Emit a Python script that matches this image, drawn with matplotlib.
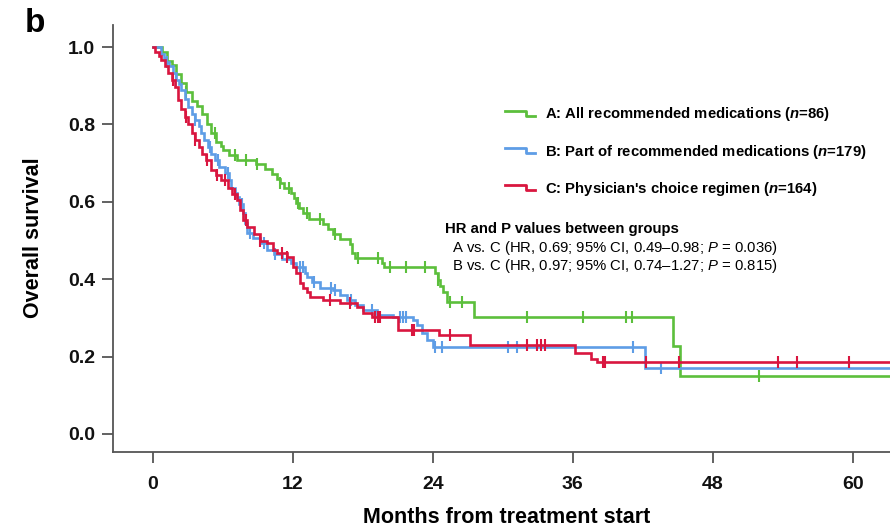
import numpy as np
import matplotlib
matplotlib.use("Agg")
import matplotlib.pyplot as plt
from matplotlib.legend_handler import HandlerBase
from matplotlib.lines import Line2D

plt.rcParams['font.family'] = ['Liberation Sans', 'DejaVu Sans']
plt.rcParams['mathtext.fontset'] = 'custom'
plt.rcParams['mathtext.it'] = 'Liberation Sans:italic'
plt.rcParams['mathtext.bfit'] = 'Liberation Sans:italic:bold'
plt.rcParams['mathtext.rm'] = 'Liberation Sans'

# ---------------- data ----------------
A_t = [0, 0.8, 1.2, 1.6, 2.0, 2.4, 2.8, 3.3, 3.8, 4.2, 4.6, 5.0, 5.4, 5.8, 6.0, 6.5, 7.2, 8.8, 9.6, 10.2,
       10.6, 10.9, 11.2, 11.8, 12.1, 12.3, 12.5, 12.9, 13.4, 14.6, 15.0, 15.4, 16.0, 16.9, 17.1, 17.3,
       19.6, 19.8, 24.2, 24.4, 24.6, 24.9, 25.2, 27.5, 44.6, 45.2]
A_s = [1.0, 0.988, 0.965, 0.953, 0.93, 0.907, 0.884, 0.86, 0.849, 0.826, 0.802, 0.779, 0.756, 0.745, 0.733,
       0.721, 0.709, 0.697, 0.685, 0.673, 0.66, 0.648, 0.636, 0.623, 0.61, 0.597, 0.584, 0.571, 0.557, 0.544,
       0.531, 0.518, 0.505, 0.491, 0.468, 0.455, 0.443, 0.432, 0.415, 0.398, 0.382, 0.367, 0.341, 0.302,
       0.227, 0.151]
A_cens = [2.8, 5.3, 7.0, 8.0, 8.9, 10.9, 11.7, 12.4, 13.2, 14.3, 15.6, 17.6, 19.3, 20.3, 21.7, 23.3,
          24.4, 25.5, 26.5, 32.1, 36.9, 40.6, 41.1, 52.0]

B_t = [0, 0.7, 0.9, 1.1, 1.4, 1.7, 2.0, 2.2, 2.4, 2.7, 3.0, 3.3, 3.6, 3.9, 4.1, 4.4, 4.7, 5.0, 5.3, 5.7,
       6.2, 6.5, 6.7, 7.0, 7.2, 7.4, 7.7, 7.9, 8.1, 8.6, 9.2, 9.8, 10.4, 11.1, 11.8, 12.3, 13.0, 13.2, 13.6,
       14.3, 15.4, 16.0, 16.6, 17.3, 18.0, 19.2, 20.6, 22.3, 22.6, 23.1, 23.5, 24.0, 42.2]
B_s = [1.0, 0.983, 0.972, 0.961, 0.95, 0.933, 0.916, 0.905, 0.889, 0.866, 0.845, 0.828, 0.811, 0.795, 0.778,
       0.76, 0.742, 0.725, 0.708, 0.69, 0.674, 0.656, 0.636, 0.624, 0.612, 0.595, 0.571, 0.545, 0.519, 0.506,
       0.494, 0.475, 0.464, 0.452, 0.442, 0.432, 0.416, 0.405, 0.393, 0.377, 0.372, 0.36, 0.346, 0.333, 0.32,
       0.307, 0.302, 0.295, 0.282, 0.261, 0.243, 0.225, 0.17]
B_cens = [1.2, 2.0, 3.6, 4.9, 5.6, 6.4, 7.6, 8.3, 9.5, 10.5, 12.6, 12.9, 13.8, 15.3, 15.6, 17.0, 18.8,
          21.2, 21.4, 21.7, 24.2, 24.8, 30.4, 31.2, 41.2, 43.6]

C_t = [0, 0.2, 0.5, 0.7, 1.0, 1.3, 1.6, 1.9, 2.1, 2.4, 2.7, 3.0, 3.3, 3.6, 3.9, 4.2, 4.5, 5.0, 5.4, 5.8,
       6.4, 6.8, 7.2, 7.5, 7.7, 8.1, 8.7, 9.2, 9.8, 10.3, 10.6, 11.5, 12.0, 12.3, 12.6, 12.9, 13.2, 13.5,
       14.6, 16.0, 17.5, 18.0, 18.8, 21.0, 24.5, 27.2, 36.2, 37.6, 38.1]
C_s = [1.0, 0.988, 0.976, 0.966, 0.95, 0.933, 0.915, 0.897, 0.863, 0.84, 0.819, 0.8, 0.778, 0.76, 0.742,
       0.725, 0.708, 0.682, 0.67, 0.656, 0.636, 0.62, 0.605, 0.58, 0.553, 0.535, 0.517, 0.5, 0.494, 0.475,
       0.468, 0.457, 0.432, 0.416, 0.39, 0.377, 0.366, 0.354, 0.346, 0.338, 0.328, 0.313, 0.302, 0.269,
       0.256, 0.23, 0.209, 0.195, 0.186]
C_cens = [1.7, 2.8, 3.6, 4.6, 5.5, 6.2, 7.0, 8.0, 9.2, 11.1, 11.5, 15.2, 16.9, 19.0, 19.3, 19.5, 22.2,
          22.35, 25.5, 32.1, 32.9, 33.3, 33.6, 38.6, 38.75, 42.3, 45.1, 53.6, 55.2, 59.7]

END_T = 64
labels = [r'A: All recommended medications ($\mathbfit{n}$=86)',
          r'B: Part of recommended medications ($\mathbfit{n}$=179)',
          r"C: Physician's choice regimen ($\mathbfit{n}$=164)"]
colors = ['#5cbf3c', '#5e9de6', '#d9163f']
x_ticks = [0, 12, 24, 36, 48, 60]
y_ticks = [0.0, 0.2, 0.4, 0.6, 0.8, 1.0]

# ---------------- figure ----------------
fig = plt.figure(figsize=(8.9, 5.29), dpi=100)
ax = fig.add_axes([0.127, 0.1456, 0.873, 0.807])

series = [(A_t, A_s, A_cens), (B_t, B_s, B_cens), (C_t, C_s, C_cens)]
lines = []
for (t, s, c), col, lab in zip(series, colors, labels):
    tt = np.array(t + [END_T])
    ss = np.array(s + [s[-1]])
    ln, = ax.step(tt, ss, where='post', color=col, lw=1.9, label=lab, solid_joinstyle='miter')
    lines.append(ln)
    idx = np.searchsorted(np.array(t), np.array(c), side='right') - 1
    ax.plot(c, np.array(s)[idx], linestyle='none', marker='|', markersize=8, mew=1.5, color=col)

ax.set_xlim(-3.43, 63.2)
ax.set_ylim(-0.0465, 1.057)
ax.set_xticks(x_ticks)
ax.set_xticklabels([str(v) for v in x_ticks])
ax.set_yticks(y_ticks)
ax.set_yticklabels([f'{v:.1f}' for v in y_ticks])
for side in ['top', 'right']:
    ax.spines[side].set_visible(False)
for side in ['left', 'bottom']:
    ax.spines[side].set_color('#555555')
    ax.spines[side].set_linewidth(1.3)
ax.tick_params(axis='both', direction='out', length=8, width=1.3, color='#555555',
               labelsize=14, labelcolor='#111111')
ax.tick_params(axis='y', pad=5)
ax.tick_params(axis='x', pad=9)
for lbl in ax.get_xticklabels() + ax.get_yticklabels():
    lbl.set_fontweight('bold')

ax.set_xlabel('Months from treatment start', fontsize=15.5, fontweight='bold', va='center')
ax.set_ylabel('Overall survival', fontsize=15.5, fontweight='bold', va='center')
ax.xaxis.set_label_coords(0.506, -0.153)
ax.yaxis.set_label_coords(-0.103, 0.503)

fig.text(0.028, 0.956, 'b', fontsize=24, fontweight='bold', va='center', ha='left')


class StepHandler(HandlerBase):
    def create_artists(self, legend, orig_handle, xdescent, ydescent, width, height, fontsize, trans):
        x0, x1 = -xdescent, -xdescent + width
        xm = x0 + width * 0.72
        yh = -ydescent + height * 0.75
        yl = -ydescent + height * 0.25
        l = Line2D([x0, xm, xm, x1], [yh, yh, yl, yl], color=orig_handle.get_color(), lw=2.0,
                   transform=trans)
        return [l]


leg = ax.legend(handles=lines, loc='upper left', bbox_to_anchor=(0.5045, 0.812), frameon=False,
                handler_map={Line2D: StepHandler()}, handlelength=2.0, handletextpad=0.7,
                labelspacing=1.3, borderpad=0, borderaxespad=0,
                prop={'weight': 'bold', 'size': 10.7})

ax.text(0.427, 0.522, 'HR and P values between groups', transform=ax.transAxes,
        fontsize=10.7, fontweight='bold', ha='left', va='center')
ax.text(0.436, 0.478, r'A vs. C (HR, 0.69; 95% CI, 0.49–0.98; $\mathit{P}$ = 0.036)',
        transform=ax.transAxes, fontsize=10.7, ha='left', va='center')
ax.text(0.436, 0.436, r'B vs. C (HR, 0.97; 95% CI, 0.74–1.27; $\mathit{P}$ = 0.815)',
        transform=ax.transAxes, fontsize=10.7, ha='left', va='center')

fig.savefig('out.png', dpi=100)
